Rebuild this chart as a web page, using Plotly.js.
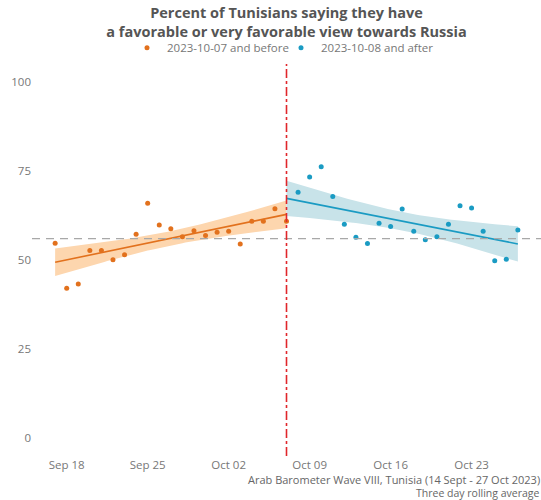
<!DOCTYPE html>
<html>
<head>
<meta charset="utf-8">
<script src="https://cdn.plot.ly/plotly-3.0.1.min.js"></script>
<style>html,body{margin:0;padding:0;background:#fff}#chart{width:541px;height:500px}</style>
</head>
<body>
<div id="chart"></div>
<script>
// ---- data ----
const BEFORE_DATES = ['2023-09-17','2023-09-18','2023-09-19','2023-09-20','2023-09-21','2023-09-22','2023-09-23',
  '2023-09-24','2023-09-25','2023-09-26','2023-09-27','2023-09-28','2023-09-29','2023-09-30','2023-10-01',
  '2023-10-02','2023-10-03','2023-10-04','2023-10-05','2023-10-06','2023-10-07'];
const BEFORE_VALUES = [54.7, 42.1, 43.3, 52.7, 52.7, 50.1, 51.5, 57.2, 65.9, 59.8, 58.8,
  56.5, 58.2, 56.9, 57.8, 58.1, 54.5, 60.9, 60.9, 64.4, 60.9];
const AFTER_DATES = ['2023-10-08','2023-10-09','2023-10-10','2023-10-11','2023-10-12','2023-10-13','2023-10-14',
  '2023-10-15','2023-10-16','2023-10-17','2023-10-18','2023-10-19','2023-10-20','2023-10-21','2023-10-22',
  '2023-10-23','2023-10-24','2023-10-25','2023-10-26','2023-10-27'];
const AFTER_VALUES = [69.0, 73.3, 76.2, 67.8, 60.0, 56.4, 54.6, 60.3, 59.4, 64.3,
  58.1, 55.7, 56.5, 60.0, 65.2, 64.6, 58.1, 49.8, 50.2, 58.4];
const SPLIT_DATE = '2023-10-07';
const REFERENCE_LEVEL = 56;
const X_TICKS = ['2023-09-18','2023-09-25','2023-10-02','2023-10-09','2023-10-16','2023-10-23'];
const Y_TICKS = [0, 25, 50, 75, 100];
const SERIES_NAMES = ['2023-10-07 and before', '2023-10-08 and after'];
const TITLE_TEXT = 'Percent of Tunisians saying they have<br>a favorable or very favorable view towards Russia';
const CAPTION_1 = 'Arab Barometer Wave VIII, Tunisia (14 Sept - 27 Oct 2023)';
const CAPTION_2 = 'Three day rolling average';

// ---- styling ----
const ORANGE = '#e2711d', ORANGE_FILL = '#fdd6ae';
const BLUE = '#1a9bc3', BLUE_FILL = '#c8e3e9';
const FONT = 'Open Sans, sans-serif';

// ---- linear fit with 95% confidence band ----
const T_CRIT = {19: 2.093};
const DAY = 864e5;
const toDay = s => Date.parse(s + 'T00:00:00Z') / DAY;
const fmt = d => new Date(d * DAY).toISOString().replace('T', ' ').slice(0, 19);

function fit(dates, values) {
  const xs = dates.map(toDay), n = xs.length;
  const mx = xs.reduce((a, b) => a + b, 0) / n;
  const my = values.reduce((a, b) => a + b, 0) / n;
  let sxx = 0, sxy = 0;
  xs.forEach((x, i) => { sxx += (x - mx) ** 2; sxy += (x - mx) * (values[i] - my); });
  const b = sxy / sxx, a = my - b * mx;
  let sse = 0;
  xs.forEach((x, i) => { sse += (values[i] - a - b * x) ** 2; });
  const s = Math.sqrt(sse / (n - 2));
  const t = T_CRIT[n - 2] || 2.0;
  const lo = Math.min(...xs), hi = Math.max(...xs), steps = 80;
  const lx = [], ly = [], up = [], dn = [];
  for (let k = 0; k <= steps; k++) {
    const x = lo + (hi - lo) * k / steps;
    const y = a + b * x;
    const se = s * Math.sqrt(1 / n + (x - mx) ** 2 / sxx);
    lx.push(fmt(x)); ly.push(y); up.push(y + t * se); dn.push(y - t * se);
  }
  return {
    lineX: lx, lineY: ly,
    bandX: lx.concat(lx.slice().reverse()),
    bandY: up.concat(dn.slice().reverse())
  };
}

const fitBefore = fit(BEFORE_DATES, BEFORE_VALUES);
// the after-fit starts at the split day
const splitIdx = BEFORE_DATES.indexOf(SPLIT_DATE);
const fitAfter = fit([SPLIT_DATE].concat(AFTER_DATES), [BEFORE_VALUES[splitIdx]].concat(AFTER_VALUES));

const traces = [
  {x: fitBefore.bandX, y: fitBefore.bandY, type: 'scatter', mode: 'lines', fill: 'toself',
   fillcolor: ORANGE_FILL, line: {width: 0}, hoverinfo: 'skip', showlegend: false},
  {x: fitAfter.bandX, y: fitAfter.bandY, type: 'scatter', mode: 'lines', fill: 'toself',
   fillcolor: BLUE_FILL, line: {width: 0}, hoverinfo: 'skip', showlegend: false},
  {x: fitBefore.lineX, y: fitBefore.lineY, type: 'scatter', mode: 'lines',
   line: {color: ORANGE, width: 1.6}, showlegend: false},
  {x: fitAfter.lineX, y: fitAfter.lineY, type: 'scatter', mode: 'lines',
   line: {color: BLUE, width: 1.6}, showlegend: false},
  {x: BEFORE_DATES, y: BEFORE_VALUES, type: 'scatter', mode: 'markers', name: SERIES_NAMES[0],
   marker: {color: ORANGE, size: 5}, legend: 'legend'},
  {x: AFTER_DATES, y: AFTER_VALUES, type: 'scatter', mode: 'markers', name: SERIES_NAMES[1],
   marker: {color: BLUE, size: 5}, legend: 'legend2'}
];

const legendStyle = (x) => ({orientation: 'h', x: x, xanchor: 'left', y: 1.0416, yanchor: 'middle',
  font: {size: 11.5, color: '#777'}, itemwidth: 30, bgcolor: 'rgba(0,0,0,0)'});

const layout = {
  width: 541, height: 500,
  paper_bgcolor: '#fff', plot_bgcolor: '#fff',
  margin: {l: 32, r: 0, t: 64, b: 44},
  font: {family: FONT, color: '#777', size: 11},
  title: {text: TITLE_TEXT, x: 0.5, xref: 'paper', y: 0.964, yref: 'container', yanchor: 'middle',
          font: {family: FONT, size: 14.5, color: '#555', weight: 'bold'}},
  showlegend: true,
  legend: legendStyle((127 - 32) / 509),
  legend2: legendStyle((281 - 32) / 509),
  xaxis: {type: 'date', range: ['2023-09-15', '2023-10-29'], tickvals: X_TICKS, tickformat: '%b %d',
          showgrid: false, zeroline: false, showline: false, ticks: '', tickfont: {size: 11.5, color: '#777'}},
  yaxis: {range: [-5, 105], tickvals: Y_TICKS, showgrid: false, zeroline: false, showline: false,
          ticks: '', tickfont: {size: 11.5, color: '#777'}},
  shapes: [
    {type: 'line', xref: 'paper', x0: 0, x1: 1, yref: 'y', y0: REFERENCE_LEVEL, y1: REFERENCE_LEVEL,
     line: {color: '#a8a8a8', width: 1.4, dash: '8px,6px'}, layer: 'above'},
    {type: 'line', xref: 'x', x0: SPLIT_DATE, x1: SPLIT_DATE, yref: 'paper', y0: 0, y1: 1,
     line: {color: '#e0262b', width: 1.6, dash: 'dashdot'}, layer: 'above'}
  ],
  annotations: [
    {text: CAPTION_1, xref: 'paper', x: 1, xanchor: 'right', yref: 'paper', y: -0.0612, yanchor: 'middle',
     showarrow: false, borderpad: 0, font: {size: 11, color: '#666'}},
    {text: CAPTION_2, xref: 'paper', x: 1, xanchor: 'right', yref: 'paper', y: -0.0944, yanchor: 'middle',
     showarrow: false, borderpad: 0, font: {size: 10.5, color: '#666'}}
  ]
};

Plotly.newPlot('chart', traces, layout, {displayModeBar: false, responsive: false});
</script>
</body>
</html>
